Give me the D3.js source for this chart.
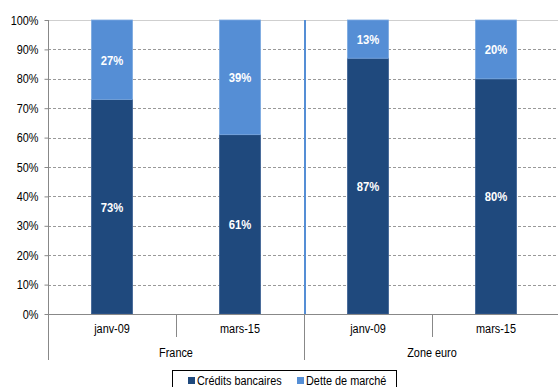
<!DOCTYPE html>
<html><head><meta charset="utf-8">
<script src="https://cdn.jsdelivr.net/npm/d3@7"></script>
<style>
body{margin:0;background:#fff;}
text{font-family:"Liberation Sans",Arial,sans-serif;}
</style></head><body>
<svg id="c" width="558" height="387"></svg>
<script>
const groups = ["France", "Zone euro"];
const categories = ["janv-09", "mars-15", "janv-09", "mars-15"];
const categoryGroup = ["France", "France", "Zone euro", "Zone euro"];
const credits = [73, 61, 87, 80];
const dette = [27, 39, 13, 20];
const seriesNames = ["Crédits bancaires", "Dette de marché"];
const colors = ["#1F497D", "#558ED5"];
const yTicks = [0,10,20,30,40,50,60,70,80,90,100];

const svg = d3.select("#c");
const L = 48, R = 560, T = 20, B = 314;
const x = d3.scaleBand().domain(d3.range(categories.length)).range([L, R]).paddingInner(0).paddingOuter(0);
const y = d3.scaleLinear().domain([0, 100]).range([B, T]);
const bw = 41;

function narrow(sel, f) {
  sel.each(function() {
    const w = this.getComputedTextLength();
    d3.select(this).attr("textLength", w * f).attr("lengthAdjust", "spacingAndGlyphs");
  });
}

// gridlines
svg.append("g").selectAll("line").data(yTicks.filter(d => d > 0)).join("line")
  .attr("x1", L).attr("x2", 558).attr("y1", d => Math.round(y(d)) + 0.5).attr("y2", d => Math.round(y(d)) + 0.5)
  .attr("stroke", d => d === 100 ? "#cfcfcf" : "#999")
  .attr("stroke-dasharray", d => d === 100 ? null : "3,2")
  .attr("stroke-width", 1);

// bars
const data = categories.map((c, i) => ({i, c, vals: [credits[i], dette[i]]}));
data.forEach(d => {
  let base = 0;
  d.vals.forEach((v, s) => {
    const cx = x(d.i) + x.bandwidth() / 2;
    svg.append("rect")
      .attr("x", cx - bw / 2).attr("width", bw)
      .attr("y", y(base + v)).attr("height", y(base) - y(base + v))
      .attr("fill", colors[s]).attr("stroke", s === 0 ? "#3b6093" : "#7aa8e0").attr("stroke-width", 0.8);
    const t = svg.append("text")
      .attr("x", cx).attr("y", (y(base) + y(base + v)) / 2 + 5)
      .attr("text-anchor", "middle").attr("fill", "#fff")
      .attr("font-weight", "bold").attr("font-size", 12.5)
      .text(v + "%");
    narrow(t, 0.9);
    base += v;
  });
});

// group separator (blue)
svg.append("line").attr("x1", 305).attr("x2", 305).attr("y1", T).attr("y2", B)
  .attr("stroke", "#558ED5").attr("stroke-width", 2);

// y axis
const yAxis = d3.axisLeft(y).tickValues(yTicks).tickFormat(d => d + "%").tickSize(4).tickPadding(6);
const ga = svg.append("g").attr("transform", `translate(${L + 0.5},0)`).call(yAxis);
ga.select(".domain").remove();
ga.selectAll(".tick line").attr("stroke", "#888");
ga.selectAll("text").attr("font-size", 12.5).attr("fill", "#000").style("font-family", "'Liberation Sans',Arial,sans-serif");
narrow(ga.selectAll("text"), 0.87);
svg.append("line").attr("x1", L + 0.5).attr("x2", L + 0.5).attr("y1", T).attr("y2", 360).attr("stroke", "#888");

// x axis
svg.append("line").attr("x1", L).attr("x2", 558).attr("y1", B + 0.5).attr("y2", B + 0.5).attr("stroke", "#888");
const xAxis = d3.axisBottom(x).tickFormat(i => categories[i]).tickSize(0).tickPadding(10);
const gx = svg.append("g").attr("transform", `translate(0,${B})`).call(xAxis);
gx.select(".domain").remove();
gx.selectAll("text").attr("font-size", 12.5).attr("fill", "#000").style("font-family", "'Liberation Sans',Arial,sans-serif");
narrow(gx.selectAll("text"), 0.87);
// separator ticks
d3.range(1, categories.length).forEach(i => {
  const xx = Math.round(x(i)) + 0.5;
  const longT = categoryGroup[i] !== categoryGroup[i - 1];
  svg.append("line").attr("x1", xx).attr("x2", xx).attr("y1", B).attr("y2", longT ? 360 : 337).attr("stroke", "#888");
});
// group labels
groups.forEach(g => {
  const idx = d3.range(categories.length).filter(i => categoryGroup[i] === g);
  const cx = (x(idx[0]) + x(idx[idx.length - 1]) + x.bandwidth()) / 2;
  const t = svg.append("text").attr("x", cx).attr("y", 357).attr("text-anchor", "middle").attr("font-size", 12.5).text(g);
  narrow(t, 0.87);
});

// legend
svg.append("rect").attr("x", 172.5).attr("y", 370.5).attr("width", 224).attr("height", 20).attr("fill", "#fff").attr("stroke", "#000");
const legX = [188, 297];
seriesNames.forEach((n, s) => {
  svg.append("rect").attr("x", legX[s]).attr("y", 377).attr("width", 7).attr("height", 7).attr("fill", colors[s]);
  const t = svg.append("text").attr("x", legX[s] + 9).attr("y", 385).attr("font-size", 12.5).text(n);
  narrow(t, 0.87);
});
</script>
</body></html>
